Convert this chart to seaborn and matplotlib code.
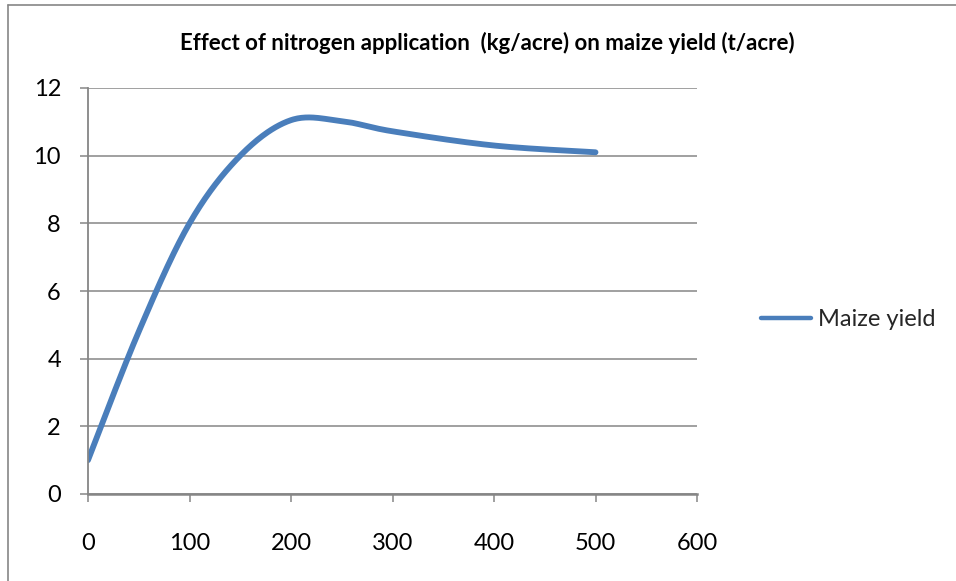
import numpy as np
import pandas as pd
import matplotlib
matplotlib.use("Agg")
import matplotlib.pyplot as plt
import seaborn as sns
from matplotlib.lines import Line2D
from matplotlib import font_manager

# ---- data ----
nitrogen = [0, 50, 100, 150, 200, 250, 300, 400, 500]
maize_yield = [1.0, 4.8, 8.0, 10.0, 11.05, 11.02, 10.72, 10.3, 10.1]
series_name = "Maize yield"
chart_title = "Effect of nitrogen application  (kg/acre) on maize yield (t/acre)"
x_ticks = [0, 100, 200, 300, 400, 500, 600]
y_ticks = [0, 2, 4, 6, 8, 10, 12]


def smooth_curve(xs, ys, n=40):
    """Excel-style smoothed line: cubic Bezier through every data point."""
    P = np.column_stack([xs, ys]).astype(float)
    parts = [P[:1]]
    t = np.linspace(0, 1, n)[1:, None]
    for i in range(len(P) - 1):
        p_prev = P[i - 1] if i > 0 else P[i]
        p_next = P[i + 2] if i + 2 < len(P) else P[i + 1]
        c1 = P[i] + (P[i + 1] - p_prev) / 6
        c2 = P[i + 1] - (p_next - P[i]) / 6
        seg = ((1 - t) ** 3) * P[i] + 3 * ((1 - t) ** 2) * t * c1 \
            + 3 * (1 - t) * t ** 2 * c2 + t ** 3 * P[i + 1]
        parts.append(seg)
    return np.vstack(parts)


curve = smooth_curve(nitrogen, maize_yield)
df = pd.DataFrame({"x": curve[:, 0], "y": curve[:, 1], "series": series_name})

sns.set_theme(style="white")
plt.rcParams["font.family"] = ["Lato", "DejaVu Sans"]

names = {f.name for f in font_manager.fontManager.ttflist}
title_family = ["Liberation Sans Narrow", "Lato", "DejaVu Sans"] \
    if "Liberation Sans Narrow" in names else ["Lato", "DejaVu Sans"]

W, H = 956, 581
fig = plt.figure(figsize=(W / 100, H / 100), dpi=100)
fig.patch.set_facecolor("white")
ax = fig.add_axes([88 / W, 1 - 494 / H, (697 - 88) / W, (494 - 88) / H])

grey = "#868686"
line_color = "#4A7EBB"

sns.lineplot(data=df, x="x", y="y", hue="series", palette=[line_color],
             sort=False, estimator=None, linewidth=4.2, ax=ax,
             solid_capstyle="round", legend=False)

ax.set_xlim(0, 600)
ax.set_ylim(0, 12)
ax.set_xticks(x_ticks)
ax.set_yticks(y_ticks)
ax.set_xticklabels([str(v) for v in x_ticks])
ax.set_yticklabels([str(v) for v in y_ticks])
ax.set_xlabel("")
ax.set_ylabel("")

ax.yaxis.grid(True, color=grey, linewidth=1.1)
ax.xaxis.grid(False)
ax.set_axisbelow(True)
for s in ["top", "right"]:
    ax.spines[s].set_visible(False)
ax.spines["left"].set_color(grey)
ax.spines["left"].set_linewidth(1.3)
ax.spines["bottom"].set_color(grey)
ax.spines["bottom"].set_linewidth(1.8)
ax.tick_params(axis="both", which="major", direction="out", length=6,
               width=1.1, color=grey, labelsize=17, labelcolor="black")
ax.tick_params(axis="y", pad=13.5, left=True)
ax.tick_params(axis="x", pad=22, bottom=True)

fig.text(487 / W, 1 - 43 / H, chart_title, ha="center", va="center",
         fontsize=16, fontweight="bold", family=title_family, color="black")

handle = Line2D([0], [0], color=line_color, linewidth=3.2, solid_capstyle="round")
fig.legend([handle], [series_name], loc="center left",
           bbox_to_anchor=(740 / W, 1 - 320 / H), frameon=False,
           fontsize=17, handlelength=2.1, handletextpad=0.3)

# chart-area border (top and left edges visible in the reference)
fig.add_artist(Line2D([8 / W, 1], [1 - 5 / H, 1 - 5 / H], color=grey, linewidth=1.2,
                      transform=fig.transFigure))
fig.add_artist(Line2D([8 / W, 8 / W], [0, 1 - 5 / H], color=grey, linewidth=1.2,
                      transform=fig.transFigure))

fig.savefig("out.png", dpi=100)
